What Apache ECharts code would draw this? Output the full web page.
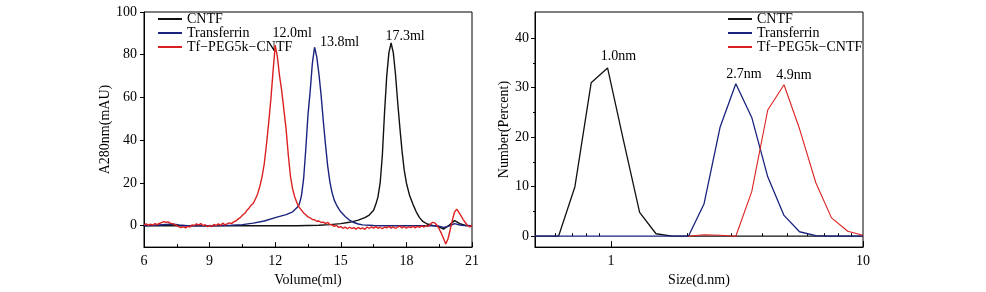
<!DOCTYPE html>
<html><head><meta charset="utf-8">
<script src="https://cdn.jsdelivr.net/npm/echarts@6/dist/echarts.min.js"></script>
<style>html,body{margin:0;padding:0;background:#fff}#c{width:986px;height:292px}</style>
</head><body><div id="c"></div>
<script>
// ---------- names ----------
const seriesNames = ['CNTF', 'Transferrin', 'Tf\u2212PEG5k\u2212CNTF'];

// ---------- left panel: SEC chromatogram ----------
const volTicks = [6, 9, 12, 15, 18, 21];
const absTicks = [0, 20, 40, 60, 80, 100];

const volBlack = [6, 13, 14, 14.5, 15, 15.4, 15.8, 16.1, 16.3, 16.5, 16.6, 16.7, 16.8, 16.9, 17.0, 17.1, 17.2, 17.3, 17.4, 17.5, 17.6, 17.7, 17.8, 17.9, 18.0, 18.15, 18.3, 18.45, 18.6, 18.75, 18.95, 19.2, 19.45, 19.7, 19.95, 20.2, 20.45, 20.7, 21];
const absBlack = [0, 0, 0.2, 0.5, 1.0, 1.6, 2.6, 3.8, 5.0, 7.2, 10, 13.5, 20, 33, 53, 70, 81, 85.5, 81, 71, 58, 46, 35, 26, 20, 14, 10, 6.5, 3.8, 2.0, 0.8, 0.1, -0.3, -1.6, 0.2, 2.4, 1.0, 0.1, 0];

const volBlue = [6, 6.5, 7.0, 7.3, 7.6, 8.0, 9.0, 10.0, 10.5, 11.0, 11.5, 12.0, 12.5, 12.8, 13.0, 13.1, 13.2, 13.3, 13.4, 13.5, 13.6, 13.7, 13.8, 13.9, 14.0, 14.1, 14.2, 14.3, 14.4, 14.5, 14.6, 14.7, 14.8, 14.9, 15.0, 15.2, 15.4, 15.6, 15.8, 16.0, 16.5, 17.0, 19.4, 19.7, 19.95, 20.2, 20.5, 21];
const absBlue = [0, 0.2, 0.6, 0.8, 0.4, 0, 0, 0.2, 0.5, 1.2, 2.2, 3.8, 5.2, 6.5, 8.5, 10, 14, 22, 36, 52, 63, 76, 83.5, 79, 71, 61, 49, 38, 28, 20.5, 15.5, 12, 9.8, 8, 6.5, 4.3, 2.6, 1.5, 0.8, 0.4, 0.1, 0, 0, -0.8, -0.2, 1.0, 0.2, 0];

const volRed = [6.0,6.1,6.2,6.3,6.4,6.5,6.6,6.7,6.8,6.9,7.0,7.1,7.2,7.3,7.4,7.5,7.6,7.7,7.8,7.9,8.0,8.1,8.2,8.3,8.4,8.5,8.6,8.7,8.8,8.9,9.0,9.1,9.2,9.3,9.4,9.5,9.6,9.7,9.8,9.9,10.0,10.1,10.2,10.3,10.4,10.5,10.6,10.7,10.8,10.9,11.0,11.1,11.2,11.3,11.4,11.5,11.6,11.7,11.8,11.9,12.0,12.1,12.2,12.3,12.4,12.5,12.6,12.7,12.8,12.9,13.0,13.1,13.2,13.3,13.4,13.5,13.6,13.7,13.8,13.9,14.0,14.1,14.2,14.3,14.4,14.5,14.6,14.7,14.8,14.9,15.0,15.1,15.2,15.3,15.4,15.5,15.6,15.7,15.8,15.9,16.0,16.1,16.2,16.3,16.4,16.5,16.6,16.7,16.8,16.9,17.0,17.1,17.2,17.3,17.4,17.5,17.6,17.7,17.8,17.9,18.0,18.1,18.2,18.3,18.4,18.5,18.6,18.7,18.8,18.9,19.0,19.1,19.2,19.3,19.4,19.5,19.6,19.7,19.8,19.9,20.0,20.1,20.2,20.3,20.4,20.5,20.6,20.7,20.8,20.9,21.0];
const absRed = [0.4,0.9,0.2,0.7,0.3,1.0,0.5,1.1,1.4,1.9,1.6,1.8,1.2,1.0,0.5,0.1,-0.5,-0.9,-0.4,-1.0,-0.3,-0.6,0.4,0.1,0.9,0.3,1.0,0.0,0.5,-0.5,0.2,-0.4,0.6,0.0,0.9,0.2,1.2,0.4,0.9,1.3,1.0,1.8,2.2,3.1,3.8,4.9,5.7,7.1,8.2,9.6,10.5,12.6,15.0,18.5,23,29,38,48,59,72,84.5,79,70,63,54,45,33,23,17,13.2,10.6,8.6,7.3,6.0,5.1,4.1,3.7,2.9,2.8,2.1,2.2,1.5,1.7,1.0,1.6,0.6,0.4,-0.3,0.2,-0.8,-0.4,-1.2,-0.6,-1.4,-0.7,-1.3,-0.9,-1.6,-0.8,-1.5,-1.0,-1.7,-0.6,-1.3,-0.5,-1.1,-0.4,-1.2,-0.7,-1.4,-0.6,-1.0,-0.3,-1.1,-0.5,-1.3,-0.6,-0.2,-1.0,-0.4,-1.2,-0.5,-0.9,-0.2,-1.0,-0.3,-0.8,-0.1,-0.6,0.0,-0.3,0.8,1.6,1.3,0.2,-1.5,-3.6,-6.0,-8.5,-6.2,-2.0,2.5,6.4,7.8,6.2,4.6,2.9,1.4,0.1,-0.6,0.3];

const leftPeakText = ['17.3ml', '13.8ml', '12.0ml'];
const leftPeakVol = [17.3, 13.8, 12.0];
const leftPeakAbs = [85.5, 83.5, 84.5];

// ---------- right panel: DLS size distribution ----------
const sizeLabelTicks = [1, 10];
const sizeMinorTicks = [0.6, 0.7, 0.8, 0.9, 2, 3, 4, 5, 6, 7, 8, 9];
const pctTicks = [0, 10, 20, 30, 40];
const pctMinorTicks = [5, 15, 25, 35];

const sizeBlack = [0.5, 0.62, 0.72, 0.835, 0.97, 1.12, 1.30, 1.51, 1.75, 10];
const pctBlack  = [0, 0, 10, 31, 34, 19.5, 4.8, 0.5, 0, 0];
const sizeBlue  = [0.5, 2.03, 2.34, 2.71, 3.13, 3.62, 4.19, 4.86, 5.6, 6.5, 7.5, 10];
const pctBlue   = [0, 0, 6.5, 22, 30.8, 24, 12, 4.2, 0.9, 0.1, 0, 0];
const sizeRed   = [2.03, 2.34, 2.71, 3.13, 3.62, 4.19, 4.86, 5.6, 6.5, 7.5, 8.7, 10];
const pctRed    = [0, 0.3, 0.2, 0, 9, 25.5, 30.6, 21.7, 10.8, 3.7, 1.0, 0.2];

const rightPeakText = ['1.0nm', '2.7nm', '4.9nm'];
const rightPeakSize = [0.97, 3.13, 4.86];
const rightPeakPct = [34, 30.8, 30.6];

// ---------- build ----------
const FONT = "'Liberation Serif', 'Times New Roman', serif";
const colors = ['#111111', '#1a237e', '#dc2020'];
const txt = { color: '#000', fontSize: 14, fontFamily: FONT };
const pairs = (xs, ys) => xs.map((x, i) => [x, ys[i]]);

function peakMark(x, y, text, off) {
  return {
    coord: [x, y], symbol: 'circle', symbolSize: 1, itemStyle: { color: 'rgba(0,0,0,0)' },
    label: { show: true, position: 'inside', offset: off, formatter: text, ...txt }
  };
}
function lineSeries(name, idx, data, axisIdx, marks, width) {
  return {
    name, type: 'line', xAxisIndex: axisIdx, yAxisIndex: axisIdx, data,
    symbol: 'none', color: colors[idx], itemStyle: { color: colors[idx] },
    lineStyle: { color: colors[idx], width: width }, z: 2 + idx, silent: true,
    markPoint: marks ? { silent: true, data: marks, animation: false } : undefined
  };
}

const axisCommon = {
  axisLine: { show: true, onZero: false, lineStyle: { color: '#000', width: 1 } },
  splitLine: { show: false },
  nameTextStyle: txt
};

const option = {
  animation: false,
  backgroundColor: '#fff',
  textStyle: { fontFamily: FONT },
  grid: [
    { left: 144, top: 12, width: 328, height: 240, show: true, borderColor: '#000', borderWidth: 1, backgroundColor: 'transparent' },
    { left: 535, top: 12, width: 328, height: 241, show: true, borderColor: '#000', borderWidth: 1, backgroundColor: 'transparent' }
  ],
  legend: [
    { orient: 'vertical', left: 158, top: 12, itemWidth: 24, itemHeight: 2, itemGap: 0, icon: 'rect', selectedMode: false,
      textStyle: { ...txt, lineHeight: 14 }, data: seriesNames, padding: 0 },
    { orient: 'vertical', left: 728, top: 12, itemWidth: 24, itemHeight: 2, itemGap: 0, icon: 'rect', selectedMode: false,
      textStyle: { ...txt, lineHeight: 14 }, data: seriesNames, padding: 0 }
  ],
  xAxis: [
    { ...axisCommon, gridIndex: 0, type: 'value', min: volTicks[0], max: volTicks[volTicks.length - 1], interval: 3,
      axisTick: { show: true, inside: true, length: 5, lineStyle: { color: '#000' } },
      minorTick: { show: true, splitNumber: 2, length: 3, lineStyle: { color: '#000' } },
      minorSplitLine: { show: false },
      axisLabel: { ...txt, margin: 7 },
      name: 'Volume(ml)', nameLocation: 'middle', nameGap: 23 },
    { ...axisCommon, gridIndex: 1, type: 'log', logBase: 10, min: 0.5, max: 10, position: 'bottom',
      axisTick: { show: true, inside: true, length: 6, customValues: sizeLabelTicks, lineStyle: { color: '#000' } },
      axisLabel: { ...txt, margin: 7, customValues: sizeLabelTicks },
      name: 'Size(d.nm)', nameLocation: 'middle', nameGap: 23 },
    { gridIndex: 1, type: 'log', logBase: 10, min: 0.5, max: 10, position: 'bottom',
      axisLine: { show: false }, splitLine: { show: false },
      axisTick: { show: true, inside: true, length: 3, customValues: sizeMinorTicks, lineStyle: { color: '#000' } },
      axisLabel: { show: false } }
  ],
  yAxis: [
    { ...axisCommon, gridIndex: 0, type: 'value', min: -10, max: 100,
      axisTick: { show: true, inside: false, length: 4, customValues: absTicks, lineStyle: { color: '#000' } },
      axisLabel: { ...txt, margin: 7, customValues: absTicks },
      name: 'A280nm(mAU)', nameLocation: 'middle', nameGap: 32, nameRotate: 90 },
    { ...axisCommon, gridIndex: 1, type: 'value', min: -2.2, max: 45.3, position: 'left',
      axisTick: { show: true, inside: false, length: 4, customValues: pctTicks, lineStyle: { color: '#000' } },
      axisLabel: { ...txt, margin: 6, customValues: pctTicks },
      name: 'Number(Percent)', nameLocation: 'middle', nameGap: 24, nameRotate: 90 },
    { gridIndex: 1, type: 'value', min: -2.2, max: 45.3, position: 'left',
      axisLine: { show: false }, splitLine: { show: false },
      axisTick: { show: true, inside: false, length: 2, customValues: pctMinorTicks, lineStyle: { color: '#000' } },
      axisLabel: { show: false } }
  ],
  series: [
    lineSeries(seriesNames[0], 0, pairs(volBlack, absBlack), 0, [peakMark(leftPeakVol[0], leftPeakAbs[0], leftPeakText[0], [14, -7])], 1.4),
    lineSeries(seriesNames[1], 1, pairs(volBlue, absBlue), 0, [peakMark(leftPeakVol[1], leftPeakAbs[1], leftPeakText[1], [25, -5])], 1.4),
    lineSeries(seriesNames[2], 2, pairs(volRed, absRed), 0, [peakMark(leftPeakVol[2], leftPeakAbs[2], leftPeakText[2], [17, -12])], 1.4),
    lineSeries(seriesNames[0], 0, pairs(sizeBlack, pctBlack), 1, [peakMark(rightPeakSize[0], rightPeakPct[0], rightPeakText[0], [11, -12])], 1.3),
    lineSeries(seriesNames[2], 2, pairs(sizeRed, pctRed), 1, [peakMark(rightPeakSize[2], rightPeakPct[2], rightPeakText[2], [10, -9])], 1.1),
    lineSeries(seriesNames[1], 1, pairs(sizeBlue, pctBlue), 1, [peakMark(rightPeakSize[1], rightPeakPct[1], rightPeakText[1], [8, -9])], 1.3)
  ]
};

const chart = echarts.init(document.getElementById('c'), null, { renderer: 'canvas' });
chart.setOption(option);
</script></body></html>
